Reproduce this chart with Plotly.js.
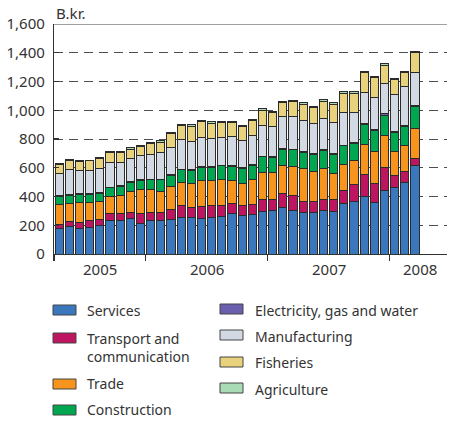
<!DOCTYPE html>
<html>
<head>
<meta charset="utf-8">
<script src="https://cdn.plot.ly/plotly-3.0.1.min.js"></script>
<style>
  html, body { margin: 0; padding: 0; background: #ffffff; }
  #chart { width: 449px; height: 421px; }
</style>
</head>
<body>
<div id="chart"></div>
<script>
// Months: April 2005 – March 2008
const months = [
  "2005-04","2005-05","2005-06","2005-07","2005-08","2005-09","2005-10","2005-11","2005-12",
  "2006-01","2006-02","2006-03","2006-04","2006-05","2006-06","2006-07","2006-08","2006-09","2006-10","2006-11","2006-12",
  "2007-01","2007-02","2007-03","2007-04","2007-05","2007-06","2007-07","2007-08","2007-09","2007-10","2007-11","2007-12",
  "2008-01","2008-02","2008-03"
];
const services = [179,191,179,184,195,233,235,244,214, 230,230,242,256,251,246,256,263,279,267,274,295, 302,326,302,291,291,302,298,353,365,400,358,444, 465,500,614];
const transport = [28,35,42,46,47,46,49,47,70, 56,61,65,79,75,84,79,72,70,70,72,86, 79,97,107,76,72,79,79,87,116,154,135,161, 82,77,49];
const trade = [135,128,137,128,121,121,125,142,163, 161,146,163,165,167,179,174,181,163,156,173,189, 186,191,200,231,212,217,186,186,168,211,221,221, 168,181,212];
const construction = [58,56,58,56,58,61,61,67,67, 69,79,79,86,89,96,96,98,97,102,100,107, 107,116,117,109,116,123,128,128,123,133,144,139, 128,131,149];
const electricity = [4,4,4,4,4,4,4,4,4, 4,4,4,4,4,4,4,4,4,4,4,4, 4,4,4,4,6,4,10,4,4,8,10,10, 12,6,8];
const manufacturing = [154,173,159,164,173,172,166,161,166, 171,183,191,206,200,198,194,194,201,194,200,215, 211,220,228,220,208,215,211,228,206,215,218,209, 253,268,234];
const fisheries = [63,65,65,65,65,66,65,65,65, 77,76,91,97,103,112,107,102,98,93,103,101, 93,97,103,109,112,123,128,131,135,140,140,128, 103,98,135];
const agriculture = [9,6,7,6,7,7,7,10,9, 9,10,10,7,11,9,9,7,7,7,9,12, 12,12,10,12,11,12,12,10,10,12,12,12, 9,12,11];

const seriesNames = ["Services","Transport and communication","Trade","Construction","Electricity, gas and water","Manufacturing","Fisheries","Agriculture"];
const seriesData = [services, transport, trade, construction, electricity, manufacturing, fisheries, agriculture];
const seriesColors = ["#3a77bd","#be1560","#f7941e","#00a650","#6a5fae","#d3d9e2","#e9d27d","#a9dbb5"];

const yTicks = [0,200,400,600,800,1000,1200,1400,1600];
const yearLabels = ["2005","2006","2007","2008"];
const yearCenters = [4, 14.5, 26.5, 35.5];
const yearBoundaries = [-0.5, 8.5, 20.5, 32.5];

const xIdx = months.map((m, i) => i);

const traces = seriesData.map((vals, k) => ({
  type: "bar",
  name: seriesNames[k],
  x: xIdx,
  y: vals,
  customdata: months,
  hovertemplate: "%{customdata}: %{y}<extra>" + seriesNames[k] + "</extra>",
  marker: { color: seriesColors[k], line: { color: "#2b2b2b", width: 1 } },
  showlegend: false
}));

// layout geometry (pixels)
const W = 449, H = 421, ML = 54, MR = 2, MT = 24, MB = 167;
const PW = W - ML - MR, PH = H - MT - MB;
const px = x => (x - ML) / PW;
const py = y => (H - MB - y) / PH;

const FONT = "Noto Sans, Open Sans, DejaVu Sans, sans-serif";
const TXT = "#333333";

const shapes = [
  { type: "line", xref: "paper", yref: "y", x0: 0, x1: 1, y0: 1600, y1: 1600,
    line: { color: "#808080", width: 1.5 } }
];
const annotations = [
  { text: "B.kr.", xref: "paper", yref: "paper", x: px(54), y: py(13), xanchor: "left", yanchor: "middle",
    showarrow: false, font: { family: FONT, size: 15, color: TXT } }
];
yearLabels.forEach((t, i) => {
  annotations.push({ text: t, xref: "x", yref: "paper", x: yearCenters[i], y: py(269),
    xanchor: "center", yanchor: "middle", showarrow: false, font: { family: FONT, size: 15, color: TXT } });
});

// legend (two columns)
const legendItems = [
  { k: 0, sx: 53, sy: 305, tx: 87, ty: 310.5 },
  { k: 1, sx: 53, sy: 333, tx: 87, ty: 347.5, label: "Transport and<br>communication" },
  { k: 2, sx: 53, sy: 379, tx: 87, ty: 383 },
  { k: 3, sx: 53, sy: 405, tx: 87, ty: 409.5 },
  { k: 4, sx: 220, sy: 304, tx: 255, ty: 310 },
  { k: 5, sx: 220, sy: 330, tx: 255, ty: 336.5 },
  { k: 6, sx: 220, sy: 357, tx: 255, ty: 362.5 },
  { k: 7, sx: 220, sy: 383, tx: 255, ty: 389.5 }
];
legendItems.forEach(it => {
  shapes.push({ type: "rect", xref: "paper", yref: "paper",
    x0: px(it.sx), x1: px(it.sx + 23), y0: py(it.sy + 10), y1: py(it.sy),
    fillcolor: seriesColors[it.k], line: { color: "#444444", width: 1 } });
  annotations.push({ text: it.label || seriesNames[it.k], xref: "paper", yref: "paper",
    x: px(it.tx - 2), y: py(it.ty), xanchor: "left", yanchor: "middle", align: "left",
    showarrow: false, font: { family: FONT, size: 14, color: TXT } });
});

const layout = {
  width: W, height: H,
  margin: { l: ML, r: MR, t: MT, b: MB, pad: 0 },
  paper_bgcolor: "#ffffff", plot_bgcolor: "#ffffff",
  barmode: "stack", bargap: 0.2,
  font: { family: FONT, color: TXT },
  xaxis: {
    range: [-0.5, -0.5 + PW / 10.17],
    tickmode: "array", tickvals: yearBoundaries, showticklabels: false,
    ticks: "outside", ticklen: 6, tickcolor: "#333333", tickwidth: 1.2,
    showline: true, linecolor: "#333333", linewidth: 1.2,
    showgrid: false, zeroline: false, fixedrange: true
  },
  yaxis: {
    range: [0, 1600],
    tickmode: "array", tickvals: yTicks, tickformat: ",d",
    ticks: "inside", ticklen: 5, tickcolor: "#333333", tickwidth: 1.2,
    ticklabelstandoff: 5,
    showline: true, linecolor: "#333333", linewidth: 1.2,
    showgrid: true, gridcolor: "#4d4d4d", gridwidth: 1, griddash: "9px,6px",
    zeroline: false, fixedrange: true,
    tickfont: { family: FONT, size: 15, color: TXT }
  },
  shapes: shapes,
  annotations: annotations,
  showlegend: false
};

Plotly.newPlot("chart", traces, layout, { displayModeBar: false, staticPlot: true });
</script>
</body>
</html>
